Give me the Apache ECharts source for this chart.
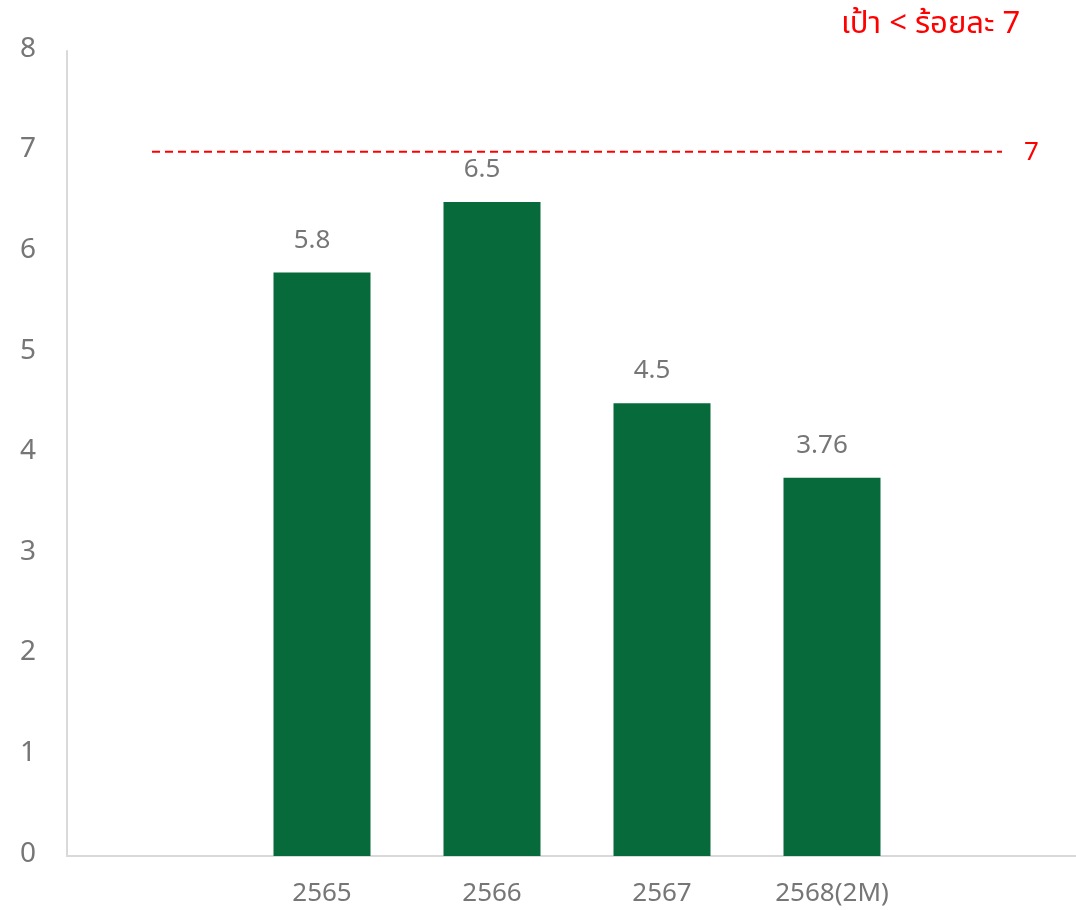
<!DOCTYPE html>
<html>
<head>
<meta charset="utf-8">
<script src="https://cdn.jsdelivr.net/npm/echarts@6/dist/echarts.min.js"></script>
<style>
	html, body { margin: 0; padding: 0; overflow: hidden; background: #fff; }
</style>
</head>
<body>
<div style="width: 1076px; height: 910px; overflow: hidden;">
	<!-- the grid runs a little past the window on the right -->
	<div id="main" style="width: 1087px; height: 910px;"></div>
</div>
<script type="text/javascript">
	var years = ['', '2565', '2566', '2567', '2568(2M)', ''];
	var rates = [null, 5.8, 6.5, 4.5, 3.76, null];
	var target = [7, 7, 7, 7, 7, 7];
	var yTicks = [0, 1, 2, 3, 4, 5, 6, 7, 8];

	var font = '"Noto Sans Thai", "Noto Sans", "DejaVu Sans", sans-serif';
	var chart = echarts.init(document.getElementById('main'), null, { renderer: 'canvas' });

	chart.setOption({
		animation: false,
		title: {
			text: 'เป้า < ร้อยละ 7',
			left: 836,
			top: 6,
			textStyle: { color: '#ff0000', fontSize: 31, fontWeight: 'normal', fontFamily: font }
		},
		grid: { left: 67, right: 0, top: 51, bottom: 54 },
		xAxis: {
			type: 'category',
			data: years,
			axisLine: { lineStyle: { color: '#d9d9d9', width: 2 } },
			axisTick: { show: false },
			axisLabel: { color: '#767676', fontSize: 26, margin: 27, fontFamily: font, interval: 0 }
		},
		yAxis: {
			type: 'value',
			min: yTicks[0],
			max: yTicks[yTicks.length - 1],
			interval: 1,
			axisLine: { show: true, lineStyle: { color: '#d9d9d9', width: 2 } },
			axisTick: { show: false },
			splitLine: { show: false },
			axisLabel: { color: '#767676', fontSize: 28, margin: 31, fontFamily: font }
		},
		series: [{
			type: 'bar',
			data: rates,
			barWidth: 97,
			itemStyle: { color: '#076a3b' },
			label: {
				show: true,
				position: 'top',
				distance: 17,
				offset: [-10, 0],
				color: '#767676',
				fontSize: 26,
				fontFamily: font
			}
		}, {
			type: 'line',
			data: target,
			symbol: 'none',
			lineStyle: { color: '#ff0000', width: 2, type: [8, 5] },
			endLabel: {
				show: true,
				distance: 22,
				offset: [0, 3],
				color: '#ff0000',
				fontSize: 26,
				fontFamily: font,
				formatter: function(p) { return p.value; }
			}
		}]
	});
</script>
</body>
</html>
